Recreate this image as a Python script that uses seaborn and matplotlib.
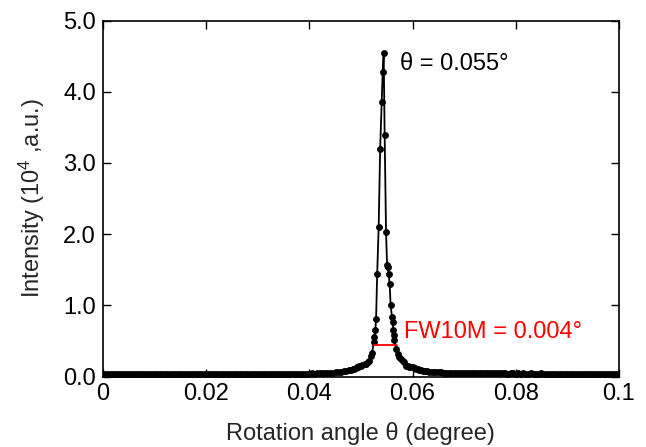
import numpy as np
import pandas as pd
import matplotlib
matplotlib.use("Agg")
import matplotlib.pyplot as plt
import seaborn as sns

# ---- data ----
base_left_x = [0.0000, 0.0005, 0.0010, 0.0015, 0.0020, 0.0025, 0.0030, 0.0035, 0.0040, 0.0045,
               0.0050, 0.0055, 0.0060, 0.0065, 0.0070, 0.0075, 0.0080, 0.0085, 0.0090, 0.0095,
               0.0100, 0.0105, 0.0110, 0.0115, 0.0120, 0.0125, 0.0130, 0.0135, 0.0140, 0.0145,
               0.0150, 0.0155, 0.0160, 0.0165, 0.0170, 0.0175, 0.0180, 0.0185, 0.0190, 0.0195,
               0.0200, 0.0205, 0.0210, 0.0215, 0.0220, 0.0225, 0.0230, 0.0235, 0.0240, 0.0245,
               0.0250, 0.0255, 0.0260, 0.0265, 0.0270, 0.0275, 0.0280, 0.0285, 0.0290, 0.0295,
               0.0300, 0.0305, 0.0310, 0.0315, 0.0320, 0.0325, 0.0330, 0.0335, 0.0340, 0.0345,
               0.0350, 0.0355, 0.0360, 0.0365, 0.0370, 0.0375, 0.0380, 0.0385, 0.0390, 0.0395,
               0.0400, 0.0405, 0.0410, 0.0415, 0.0420, 0.0425, 0.0430, 0.0435, 0.0440, 0.0445]
base_left_y = [0.035, 0.030, 0.030, 0.035, 0.030, 0.030, 0.035, 0.030, 0.030, 0.035,
               0.030, 0.030, 0.035, 0.030, 0.030, 0.035, 0.030, 0.030, 0.035, 0.030,
               0.030, 0.035, 0.030, 0.030, 0.035, 0.030, 0.030, 0.035, 0.030, 0.030,
               0.035, 0.030, 0.030, 0.035, 0.030, 0.030, 0.035, 0.030, 0.030, 0.035,
               0.030, 0.030, 0.035, 0.030, 0.030, 0.035, 0.030, 0.030, 0.035, 0.030,
               0.030, 0.035, 0.030, 0.030, 0.035, 0.030, 0.030, 0.035, 0.030, 0.030,
               0.035, 0.030, 0.030, 0.035, 0.030, 0.030, 0.035, 0.035, 0.035, 0.035,
               0.035, 0.035, 0.035, 0.035, 0.040, 0.035, 0.040, 0.040, 0.040, 0.040,
               0.040, 0.045, 0.040, 0.045, 0.045, 0.045, 0.050, 0.050, 0.050, 0.055]

peak_x = [0.0452, 0.0457, 0.0462, 0.0467, 0.0471, 0.0476, 0.0480, 0.0484, 0.0487,
          0.0490, 0.0492, 0.0495, 0.0497, 0.0500, 0.0503, 0.0507, 0.0510, 0.0513,
          0.0516, 0.0519, 0.05217, 0.05248, 0.05261, 0.05280, 0.05294, 0.05315,
          0.05344, 0.05373, 0.05402, 0.05422, 0.05441, 0.05460, 0.05487, 0.05507,
          0.05518, 0.05538, 0.05557, 0.05576, 0.05603, 0.05615, 0.05629, 0.05634,
          0.05648, 0.05681, 0.05712, 0.05745, 0.05778, 0.05810, 0.05841, 0.05874,
          0.0591, 0.0594, 0.0597, 0.06002, 0.0604, 0.0607, 0.0610, 0.06132, 0.0617,
          0.0620, 0.0624, 0.0628, 0.06325, 0.0637, 0.0641, 0.0645, 0.06518, 0.0656,
          0.0661, 0.0665, 0.0670, 0.0675, 0.0680, 0.0685]
peak_y = [0.06, 0.065, 0.07, 0.075, 0.08, 0.085, 0.09, 0.10, 0.11,
          0.12, 0.13, 0.14, 0.15, 0.15, 0.16, 0.17, 0.18, 0.20,
          0.22, 0.29, 0.33, 0.48, 0.55, 0.65, 0.81, 1.44,
          2.10, 3.20, 3.86, 4.28, 4.54, 3.39, 2.03, 1.56,
          1.54, 1.44, 1.30, 1.00, 0.83, 0.76, 0.65, 0.58,
          0.51, 0.39, 0.32, 0.27, 0.25, 0.22, 0.20, 0.15,
          0.145, 0.14, 0.135, 0.13, 0.12, 0.11, 0.10, 0.09, 0.085,
          0.08, 0.075, 0.072, 0.07, 0.067, 0.065, 0.062, 0.06, 0.058,
          0.056, 0.055, 0.055, 0.055, 0.05, 0.05]

base_right_x = [0.0690, 0.0695, 0.0700, 0.0705, 0.0710, 0.0715, 0.0720, 0.0725, 0.0730, 0.0735,
                0.0740, 0.0745, 0.0750, 0.0755, 0.0760, 0.0765, 0.0770, 0.0775, 0.0780, 0.0785,
                0.0790, 0.0795, 0.0800, 0.0805, 0.0810, 0.0815, 0.0820, 0.0825, 0.0830, 0.0835,
                0.0840, 0.0845, 0.0850, 0.0855, 0.0860, 0.0865, 0.0870, 0.0875, 0.0880, 0.0885,
                0.0890, 0.0895, 0.0900, 0.0905, 0.0910, 0.0915, 0.0920, 0.0925, 0.0930, 0.0935,
                0.0940, 0.0945, 0.0950, 0.0955, 0.0960, 0.0965, 0.0970, 0.0975, 0.0980, 0.0985,
                0.0990, 0.0995, 0.1000]
base_right_y = [0.050, 0.050, 0.050, 0.050, 0.050, 0.045, 0.050, 0.050, 0.045, 0.050,
                0.045, 0.045, 0.045, 0.050, 0.045, 0.045, 0.045, 0.045, 0.045, 0.040,
                0.045, 0.045, 0.040, 0.045, 0.040, 0.045, 0.040, 0.040, 0.045, 0.040,
                0.040, 0.040, 0.045, 0.040, 0.040, 0.040, 0.040, 0.040, 0.040, 0.040,
                0.040, 0.040, 0.040, 0.040, 0.040, 0.040, 0.040, 0.040, 0.040, 0.040,
                0.040, 0.040, 0.040, 0.040, 0.040, 0.040, 0.040, 0.040, 0.040, 0.040,
                0.040, 0.040, 0.040]

fwtm_x = [0.05261, 0.0570]
fwtm_y = [0.445, 0.445]

x_ticks = [0, 0.02, 0.04, 0.06, 0.08, 0.1]
x_tick_labels = ["0", "0.02", "0.04", "0.06", "0.08", "0.1"]
y_ticks = [0.0, 1.0, 2.0, 3.0, 4.0, 5.0]
y_tick_labels = ["0.0", "1.0", "2.0", "3.0", "4.0", "5.0"]

df = pd.DataFrame({
    "angle": base_left_x + peak_x + base_right_x,
    "intensity": base_left_y + peak_y + base_right_y,
})

# ---- style ----
sns.set_style("ticks")
plt.rcParams["font.family"] = ["Liberation Sans", "DejaVu Sans"]
plt.rcParams["mathtext.fontset"] = "custom"
plt.rcParams["mathtext.rm"] = "Liberation Sans"
plt.rcParams["mathtext.it"] = "Liberation Sans:italic"

fig = plt.figure(figsize=(6.46, 4.47), dpi=100)
ax = fig.add_axes([0.1594, 0.1577, 0.7986, 0.7964])

sns.lineplot(data=df, x="angle", y="intensity", ax=ax, color="black",
             linewidth=1.3, marker="o", markersize=4.4, markeredgecolor="black",
             markeredgewidth=0.5, sort=True)

ax.plot(fwtm_x, fwtm_y, color="#ff0000", linewidth=1.3)

ax.text(0.0576, 4.39, "θ = 0.055°", fontsize=17, ha="left", va="center", color="black")
ax.text(0.0584, 0.62, "FW10M = 0.004°", fontsize=17, ha="left", va="center", color="#ff0000")

ax.set_xlim(0, 0.1)
ax.set_ylim(0, 5.0)
ax.set_xticks(x_ticks)
ax.set_xticklabels(x_tick_labels)
ax.set_yticks(y_ticks)
ax.set_yticklabels(y_tick_labels)
ax.tick_params(direction="in", top=True, right=True, length=6, width=1.0,
               labelsize=17, pad=5, colors="black")
for s in ax.spines.values():
    s.set_linewidth(1.2)
    s.set_color("black")
    s.set_visible(True)

ax.set_xlabel("Rotation angle θ (degree)", fontsize=17, labelpad=12)
ax.set_ylabel("Intensity (10$^{\\mathrm{4}}$ ,a.u.)", fontsize=17, labelpad=12)

fig.savefig("out.png", dpi=100)
